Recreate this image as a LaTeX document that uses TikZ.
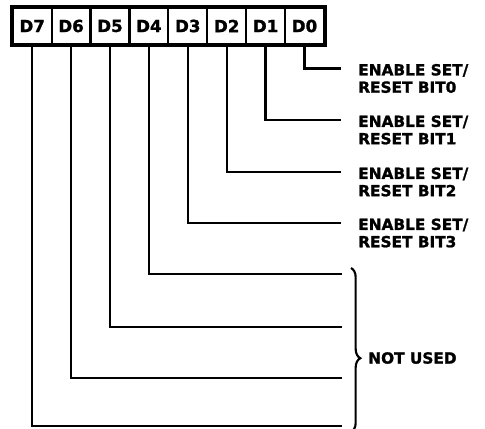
\documentclass[tikz,border=0pt]{standalone}
\usepackage{fontspec}
\setmainfont{DejaVu Sans}[BoldFeatures={FakeBold=1.3}]
\usetikzlibrary{decorations.pathreplacing}
\tikzset{
  cell/.style={draw, line width=1.6pt, minimum width=29.2pt, minimum height=27pt, inner sep=0pt,
    font=\bfseries\fontsize{12.5}{14}\selectfont},
  wire/.style={line width=1.7pt},
  lbl/.style={anchor=west, inner sep=0pt, align=left, font=\bfseries\fontsize{11.5}{13}\selectfont},
}
\begin{document}
\begin{tikzpicture}[x=0.75pt,y=-0.75pt]
\useasboundingbox (0,0) rectangle (485,428);
\foreach \k in {0,...,7} \node[cell] (c\k) at ({304.5-38.9*\k},26) {D\k};
\draw[line width=2.4pt] (c7.north west) rectangle (c0.south east);
% used bits
\coordinate (e0) at (341,68.5);
\coordinate (e1) at (341,120);
\coordinate (e2) at (341,172);
\coordinate (e3) at (341,223);
\coordinate (e4) at (342,274);
\coordinate (e5) at (342,327);
\coordinate (e6) at (342,378);
\coordinate (e7) at (342,426);
\foreach \k in {0,...,7} \draw[wire] (c\k.south) |- (e\k);
\node[lbl] (l0) at (358,78.5) {ENABLE SET/\\RESET BIT0};
\node[lbl] (l1) at (358,130) {ENABLE SET/\\RESET BIT1};
\node[lbl] (l2) at (358,182) {ENABLE SET/\\RESET BIT2};
\node[lbl] (l3) at (358,233) {ENABLE SET/\\RESET BIT3};
\coordinate (b1) at (351,268);
\coordinate (b2) at (351,432);
\draw[line width=1.6pt, decorate, decoration={brace, amplitude=7pt, aspect=0.55}] (b1) -- (b2);
\node[lbl] (nu) at (368,358) {NOT USED};
\end{tikzpicture}
\end{document}
